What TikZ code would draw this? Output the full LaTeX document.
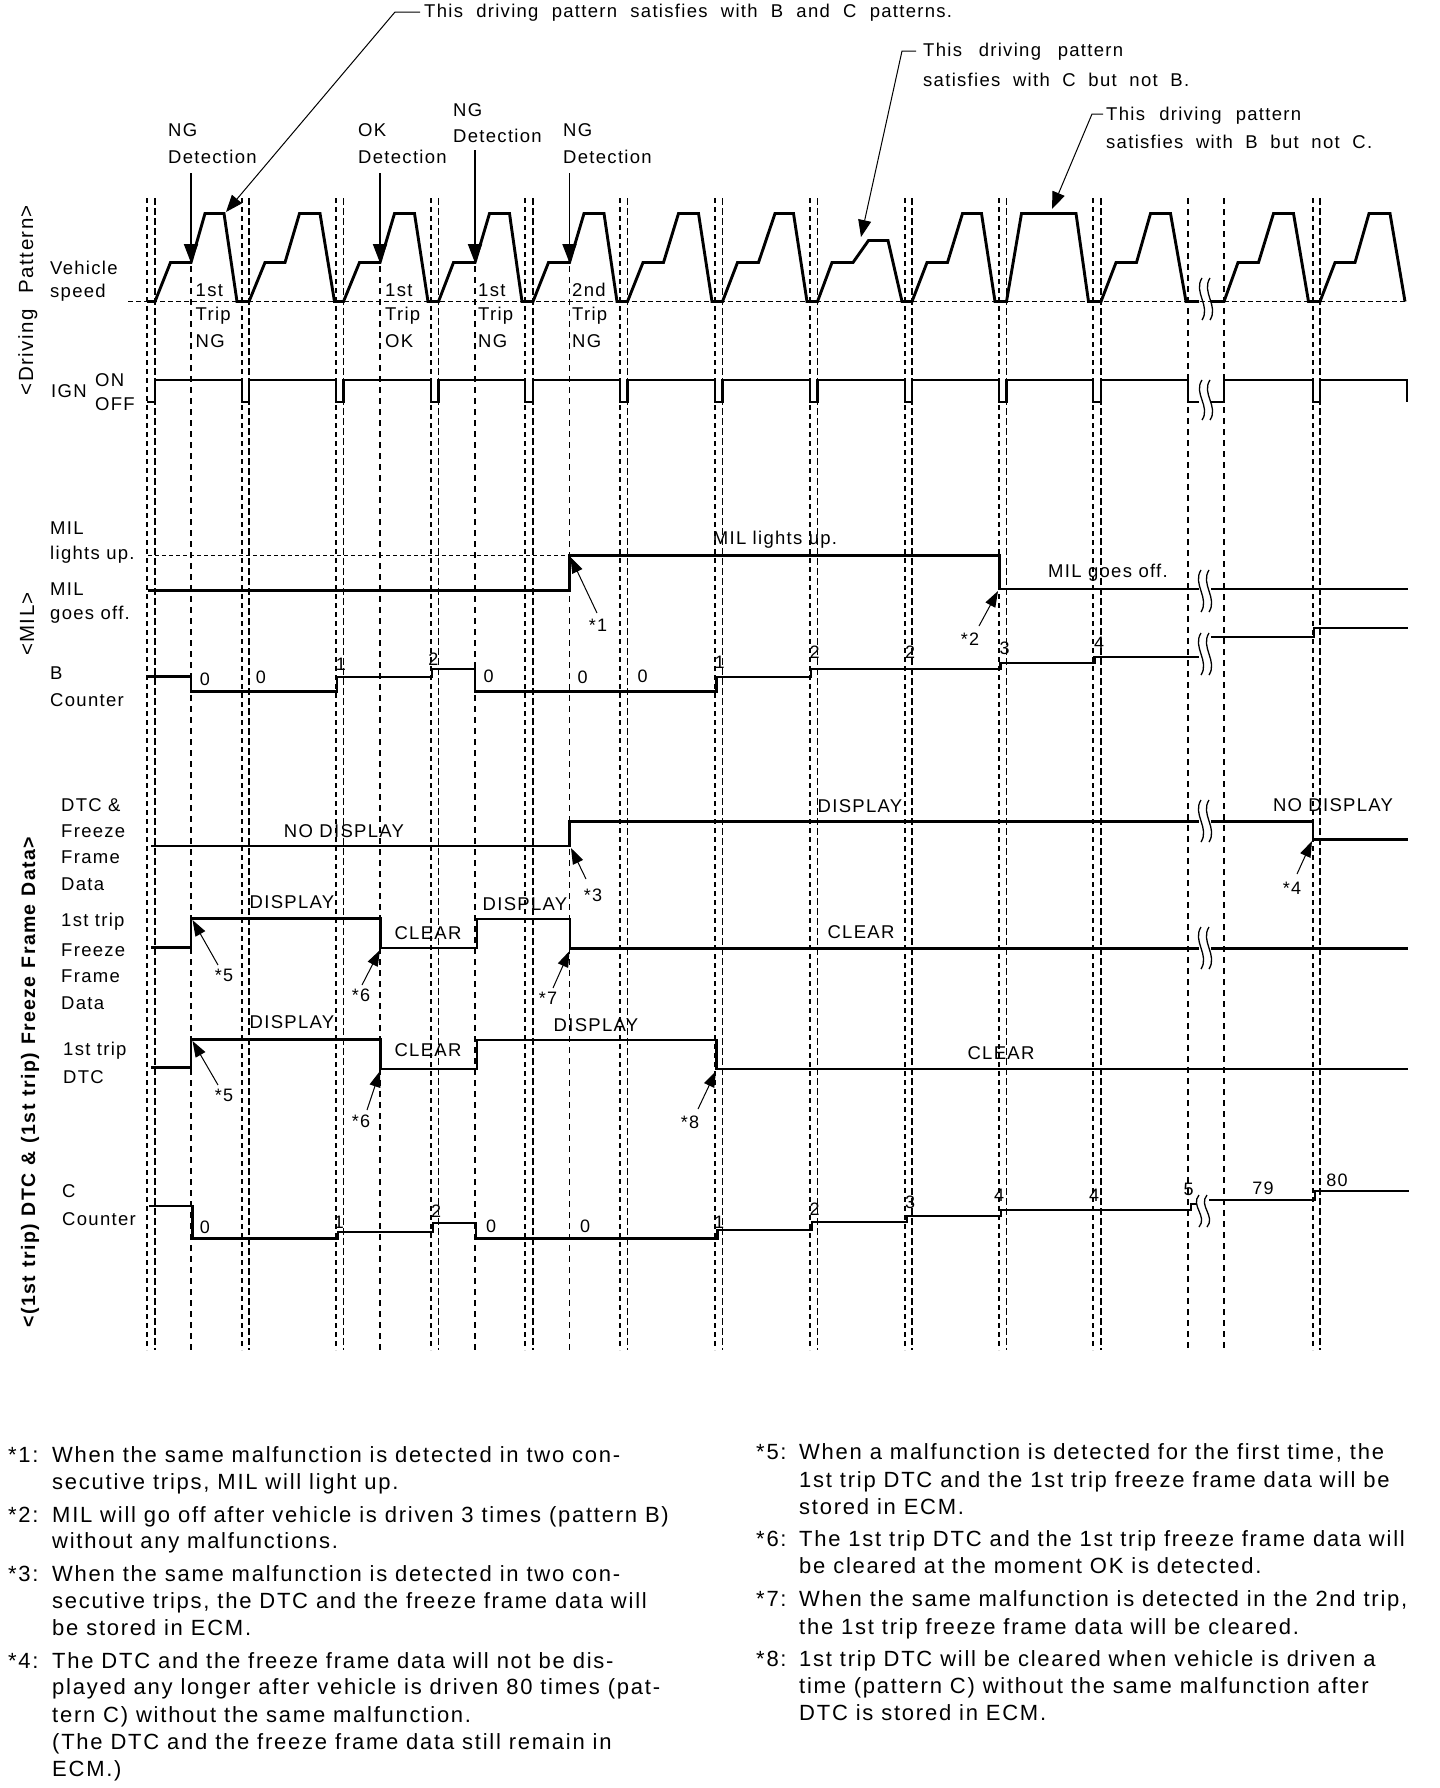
\documentclass[tikz,border=0pt]{standalone}
\usepackage{fontspec}
\setmainfont{Liberation Sans}
\newfontfamily\labf[LetterSpace=7]{Liberation Sans}
\newfontfamily\fnf[LetterSpace=8]{Liberation Sans}
\usetikzlibrary{arrows.meta}
\newcommand\brksym[3]{%
  \draw[brkline] ({#1+5},{#2-#3}) .. controls ({#1-4},{#2-#3/3}) and ({#1+14},{#2+#3/3}) .. ({#1+5},{#2+#3});
  \draw[brkline] ({#1+13},{#2-#3}) .. controls ({#1+4},{#2-#3/3}) and ({#1+22},{#2+#3/3}) .. ({#1+13},{#2+#3});}
\newcommand\fnl[4]{\node[fn] (#1) at (#2,#3) {#4};}
\tikzset{
 wave/.style={line width=2.9pt, line join=miter},
 basel/.style={line width=1pt, dash pattern=on 5pt off 3pt},
 vpa/.style={line width=1.3pt, dash pattern=on 5pt off 4pt},
 vpb/.style={line width=1.8pt, dash pattern=on 7pt off 3pt},
 vsg/.style={line width=1.1pt, dash pattern=on 6pt off 5pt},
 mildash/.style={line width=1pt, dash pattern=on 4pt off 3pt},
 lab/.style={font=\labf\fontsize{18.5}{21}\selectfont, inner sep=0pt, anchor=west},
 labc/.style={font=\labf\fontsize{18.5}{21}\selectfont, inner sep=0pt},
 dig/.style={font=\labf\fontsize{18}{20}\selectfont, inner sep=0pt},
 fn/.style={font=\fnf\fontsize{22}{26}\selectfont, inner sep=0pt, anchor=base west},
 vlab/.style={font=\labf\fontsize{20.5}{24}\selectfont, inner sep=0pt, anchor=base, rotate=90},
 callout/.style={line width=1pt, -{Triangle[length=16pt,width=11pt]}},
 leader/.style={line width=1pt, -{Triangle[length=17pt,width=13pt]}},
 detarrow/.style={line width=1.9pt, -{Triangle[length=19pt,width=14pt]}},
 brkline/.style={line width=1.3pt},
}
\begin{document}
\begin{tikzpicture}[x=1pt,y=-1pt]
\useasboundingbox (0,0) rectangle (1440,1788);
\fill[white] (0,0) rectangle (1440,1788);

% ---------- vertical guide lines ----------
\foreach \xa/\xb in {147/155, 242/249, 336/343.5, 431/438.5, 525/533, 620/627.5, 715/722.5, 810/817.5, 905/912, 999/1006.5, 1093/1101, 1313/1320} {
  \draw[vpa] (\xa,198) -- (\xa,1350);
  \draw[vpb] (\xb,198) -- (\xb,1350);
}
\foreach \xs in {191, 380, 475, 569.5} \draw[vsg] (\xs,266) -- (\xs,1350);
\foreach \xs in {1188, 1224} \draw[vsg] (\xs,198) -- (\xs,1350);

% ---------- vehicle speed ----------
\draw[basel] (128,301.5) -- (1405,301.5);
\draw[wave] (147,301.5) -- (155,301.5) -- (170.5,262.5) -- (191,262.5) -- (205,213.5) -- (224,213.5) -- (237,301.5) -- (249,301.5)
 -- (265,262.5) -- (285,262.5) -- (299.5,213.5) -- (320,213.5) -- (334.5,301.5) -- (343.5,301.5)
 -- (359.5,262.5) -- (380,262.5) -- (394.5,213.5) -- (414.5,213.5) -- (428,301.5) -- (438.5,301.5)
 -- (453.5,262.5) -- (475,262.5) -- (489.5,213.5) -- (509.5,213.5) -- (522,301.5) -- (533,301.5)
 -- (548.5,262.5) -- (569.5,262.5) -- (584,213.5) -- (604,213.5) -- (617,301.5) -- (627.5,301.5)
 -- (643,262.5) -- (663.5,262.5) -- (678.5,213.5) -- (698.5,213.5) -- (712,301.5) -- (722.5,301.5)
 -- (737.5,262.5) -- (758.5,262.5) -- (775,213.5) -- (793.5,213.5) -- (807,301.5) -- (817.5,301.5)
 -- (832,262.5) -- (853,262.5) -- (868.5,240.5) -- (888,240.5) -- (902,301.5) -- (912,301.5)
 -- (927,262.5) -- (947.5,262.5) -- (962.5,213.5) -- (981.5,213.5) -- (995,301.5) -- (1006.5,301.5)
 -- (1021.5,213.5) -- (1076,213.5) -- (1088.5,301.5) -- (1101,301.5)
 -- (1116,262.5) -- (1136.5,262.5) -- (1150.5,213.5) -- (1170.5,213.5) -- (1186,301.5) -- (1199,301.5);
\draw[wave] (1211,301.5) -- (1224,301.5) -- (1238,262.5) -- (1258.5,262.5) -- (1273.5,213.5) -- (1293.5,213.5) -- (1308.5,301.5) -- (1320,301.5)
 -- (1335,262.5) -- (1355,262.5) -- (1369,213.5) -- (1390,213.5) -- (1405,301.5);
\brksym{1197}{299}{21}

% ---------- IGN ----------
\draw[wave] (147,402) -- (155,402) -- (155,380) -- (242,380) -- (242,402) -- (249,402) -- (249,380)
 -- (336,380) -- (336,402) -- (343.5,402) -- (343.5,380) -- (431,380) -- (431,402) -- (438.5,402) -- (438.5,380)
 -- (525,380) -- (525,402) -- (533,402) -- (533,380) -- (620,380) -- (620,402) -- (627.5,402) -- (627.5,380)
 -- (715,380) -- (715,402) -- (722.5,402) -- (722.5,380) -- (810,380) -- (810,402) -- (817.5,402) -- (817.5,380)
 -- (905,380) -- (905,402) -- (912,402) -- (912,380) -- (999,380) -- (999,402) -- (1006.5,402) -- (1006.5,380)
 -- (1093,380) -- (1093,402) -- (1101,402) -- (1101,380) -- (1188,380) -- (1188,402) -- (1199,402);
\draw[wave] (1211,402) -- (1224,402) -- (1224,380) -- (1313,380) -- (1313,402) -- (1320,402) -- (1320,380) -- (1407,380) -- (1407,402);
\brksym{1197}{400}{20}

% ---------- MIL ----------
\draw[mildash] (148,555.5) -- (569.5,555.5);
\draw[wave] (148,590.5) -- (569.5,590.5) -- (569.5,555.5) -- (999.5,555.5) -- (999.5,589) -- (1199,589);
\draw[wave] (1211,589) -- (1408,589);
\brksym{1196}{591}{21}

% ---------- B counter ----------
\draw[wave] (148,676.5) -- (191,676.5) -- (191,691.5) -- (337,691.5) -- (337,677) -- (432,677) -- (432,669) -- (475,669) -- (475,691.5)
 -- (716.5,691.5) -- (716.5,677) -- (811,677) -- (811,669) -- (1000.5,669) -- (1000.5,663) -- (1094.5,663) -- (1094.5,657) -- (1199,657);
\draw[wave] (1211,637) -- (1314,637) -- (1314,628) -- (1408,628);
\brksym{1196}{654}{21}

% ---------- DTC & Freeze Frame Data ----------
\draw[wave] (151,846) -- (569.5,846) -- (569.5,821.5) -- (1199,821.5);
\draw[wave] (1211,821.5) -- (1313,821.5) -- (1313,839.5) -- (1408,839.5);
\brksym{1196}{821}{21}

% ---------- 1st trip Freeze Frame Data ----------
\draw[wave] (151,947.5) -- (191,947.5) -- (191,918.5) -- (380.5,918.5) -- (380.5,948) -- (477,948) -- (477,919) -- (570,919) -- (570,948.5) -- (1199,948.5);
\draw[wave] (1211,948.5) -- (1408,948.5);
\brksym{1196}{948}{21}

% ---------- 1st trip DTC ----------
\draw[wave] (151,1067.5) -- (191,1067.5) -- (191,1039.5) -- (380.5,1039.5) -- (380.5,1069) -- (477,1069) -- (477,1040) -- (716.5,1040) -- (716.5,1069) -- (1408,1069);

% ---------- C counter ----------
\draw[wave] (149,1206) -- (192.5,1206) -- (192.5,1238.5) -- (338,1238.5) -- (338,1232) -- (433,1232) -- (433,1223) -- (476,1223) -- (476,1238.5)
 -- (717.5,1238.5) -- (717.5,1230) -- (812,1230) -- (812,1222) -- (907,1222) -- (907,1216) -- (1001,1216) -- (1001,1210) -- (1191,1210) -- (1191,1204) -- (1197,1204);
\draw[wave] (1209,1200) -- (1315,1200) -- (1315,1191) -- (1409,1191);
\brksym{1194}{1211}{16}

% ---------- rotated section labels ----------
\node[vlab] (vdp) at (33,300) {\makebox[190pt][s]{<Driving Pattern>}};
\node[vlab] (vmil) at (34,624) {<MIL>};
\node[vlab, font=\labf\bfseries\fontsize{19.5}{24}\selectfont] (vdtc) at (35,1082) {\makebox[490pt][s]{<(1st trip) DTC \& (1st trip) Freeze Frame Data>}};

% ---------- row labels ----------
\node[lab] (lveh) at (50,268) {Vehicle};
\node[lab] (lspd) at (50,293) {speed};
\node[lab] (lign) at (51,391) {IGN};
\node[lab] (lon) at (95,380) {ON};
\node[lab] (loff) at (95,404) {OFF};
\node[lab] (lmil1) at (50,528) {MIL};
\node[lab] (llit) at (50,555) {lights up.};
\node[lab] (lmil2) at (50,589) {MIL};
\node[lab] (lgoes) at (50,615) {goes off.};
\node[lab] (lb) at (50,673) {B};
\node[lab] (lbc) at (50,700) {Counter};
\node[lab] (ldtc1) at (61,805) {DTC \&};
\node[lab] (lfr1) at (61,831) {Freeze};
\node[lab] (lfm1) at (61,857) {Frame};
\node[lab] (lda1) at (61,884) {Data};
\node[lab] (l1st1) at (61,922) {1st trip};
\node[lab] (lfr2) at (61,950) {Freeze};
\node[lab] (lfm2) at (61,976) {Frame};
\node[lab] (lda2) at (61,1003) {Data};
\node[lab] (l1st2) at (63,1051) {1st trip};
\node[lab] (ldtc2) at (63,1077) {DTC};
\node[lab] (lc) at (62,1191) {C};
\node[lab] (lcc) at (62,1219) {Counter};

% ---------- detection labels and arrows ----------
\node[lab] (ng1a) at (168,130) {NG};
\node[lab] (ng1b) at (168,157) {Detection};
\node[lab] (oka) at (358,130) {OK};
\node[lab] (okb) at (358,157) {Detection};
\node[lab] (ng2a) at (453,110) {NG};
\node[lab] (ng2b) at (453,136) {Detection};
\node[lab] (ng3a) at (563,130) {NG};
\node[lab] (ng3b) at (563,157) {Detection};
\coordinate (d1s) at (191,173);   \coordinate (d1t) at (191,263);
\coordinate (d2s) at (380,173);   \coordinate (d2t) at (380,263);
\coordinate (d3s) at (475,150);   \coordinate (d3t) at (475,263);
\coordinate (d4s) at (569.5,173); \coordinate (d4t) at (569.5,263);
\draw[detarrow] (d1s) -- (d1t);
\draw[detarrow] (d2s) -- (d2t);
\draw[detarrow] (d3s) -- (d3t);
\draw[detarrow] (d4s) -- (d4t);

% ---------- trip labels ----------
\node[lab] (t1a) at (195.5,290) {1st};
\node[lab] (t1b) at (195.5,316) {Trip};
\node[lab] (t1c) at (195.5,341) {NG};
\node[lab] (t2a) at (385,290) {1st};
\node[lab] (t2b) at (385,316) {Trip};
\node[lab] (t2c) at (385,341) {OK};
\node[lab] (t3a) at (478,290) {1st};
\node[lab] (t3b) at (478,316) {Trip};
\node[lab] (t3c) at (478,341) {NG};
\node[lab] (t4a) at (572,290) {2nd};
\node[lab] (t4b) at (572,316) {Trip};
\node[lab] (t4c) at (572,341) {NG};

% ---------- top callouts ----------
\node[lab] (c1) at (424,13) {\makebox[528pt][s]{This driving pattern satisfies with B and C patterns.}};
\node[lab] (c2a) at (923,52) {\makebox[200pt][s]{This driving pattern}};
\node[lab] (c2b) at (923,79.5) {\makebox[266pt][s]{satisfies with C but not B.}};
\node[lab] (c3a) at (1106,116) {\makebox[195pt][s]{This driving pattern}};
\node[lab] (c3b) at (1106,142) {\makebox[266pt][s]{satisfies with B but not C.}};
\coordinate (c1p) at (420,12);  \coordinate (c1q) at (395,12);  \coordinate (c1t) at (226,212);
\coordinate (c2p) at (916,51);  \coordinate (c2q) at (902,51);  \coordinate (c2t) at (861,237);
\coordinate (c3p) at (1103,114); \coordinate (c3q) at (1092,114); \coordinate (c3t) at (1052,209);
\draw[leader] (c1p) -- (c1q) -- (c1t);
\draw[leader] (c2p) -- (c2q) -- (c2t);
\draw[leader] (c3p) -- (c3q) -- (c3t);

% ---------- waveform labels ----------
\node[labc] (mlu) at (775,540) {MIL lights up.};
\node[labc] (mgo) at (1108,573) {MIL goes off.};
\node[labc] (nd1) at (344,831) {NO DISPLAY};
\node[labc] (dsp1) at (860,806) {DISPLAY};
\node[labc] (nd2) at (1333,805) {NO DISPLAY};
\node[labc] (ffd1) at (292,902) {DISPLAY};
\node[labc] (ffc1) at (428,933) {CLEAR};
\node[labc] (ffd2) at (525,904) {DISPLAY};
\node[labc] (ffc2) at (861,932) {CLEAR};
\node[labc] (dtd1) at (292,1022) {DISPLAY};
\node[labc] (dtc1) at (428,1050) {CLEAR};
\node[labc] (dtd2) at (596,1025) {DISPLAY};
\node[labc] (dtc2) at (1001,1053) {CLEAR};

% ---------- counter digits ----------
\node[dig] (b0a) at (205,679) {0};
\node[dig] (b0b) at (261,677) {0};
\node[dig] (b1a) at (341,664) {1};
\node[dig] (b2a) at (433.5,659) {2};
\node[dig] (b0c) at (488.5,676.5) {0};
\node[dig] (b0d) at (582.5,677) {0};
\node[dig] (b0e) at (642.5,676.5) {0};
\node[dig] (b1b) at (719.5,662) {1};
\node[dig] (b2b) at (814.5,652) {2};
\node[dig] (b2c) at (910,652) {2};
\node[dig] (b3) at (1004.5,648.5) {3};
\node[dig] (b4) at (1099,643.5) {4};
\node[dig] (cc0a) at (205,1227) {0};
\node[dig] (cc1a) at (339,1222) {1};
\node[dig] (cc2a) at (436,1211) {2};
\node[dig] (cc0b) at (491,1226) {0};
\node[dig] (cc0c) at (585,1226) {0};
\node[dig] (cc1b) at (719,1222) {1};
\node[dig] (cc2b) at (814.5,1209) {2};
\node[dig] (cc3) at (910,1202) {3};
\node[dig] (cc4a) at (999,1195) {4};
\node[dig] (cc4b) at (1094,1195) {4};
\node[dig] (cc5) at (1188.5,1189) {5};
\node[dig] (cc79) at (1263,1188) {79};
\node[dig] (cc80) at (1337,1180) {80};

% ---------- star callouts ----------
\node[dig] (s1) at (598,625) {*1};
\node[dig] (s2) at (970,639) {*2};
\node[dig] (s3) at (593,895) {*3};
\node[dig] (s4) at (1292,888) {*4};
\node[dig] (s5a) at (224,975) {*5};
\node[dig] (s6a) at (361,995) {*6};
\node[dig] (s7) at (548,998) {*7};
\node[dig] (s5b) at (224,1095) {*5};
\node[dig] (s6b) at (361,1121) {*6};
\node[dig] (s8) at (690,1122) {*8};
\coordinate (s1f) at (597,613);   \coordinate (s1t) at (570.5,557);
\coordinate (s2f) at (979,626);   \coordinate (s2t) at (998,591);
\coordinate (s3f) at (586,879);   \coordinate (s3t) at (571,848);
\coordinate (s4f) at (1297,874);  \coordinate (s4t) at (1312,841);
\coordinate (s5af) at (218,965);  \coordinate (s5at) at (192.5,920);
\coordinate (s6af) at (362,985);  \coordinate (s6at) at (380,950);
\coordinate (s7f) at (553,988);   \coordinate (s7t) at (569.5,951);
\coordinate (s5bf) at (218,1085); \coordinate (s5bt) at (192.5,1041);
\coordinate (s6bf) at (367,1110); \coordinate (s6bt) at (380,1071);
\coordinate (s8f) at (698,1109);  \coordinate (s8t) at (716,1071);
\foreach \n in {s1,s2,s3,s4,s5a,s6a,s7,s5b,s6b,s8} \draw[callout] (\n f) -- (\n t);

% ---------- footnotes ----------
\fnl{f1n}{8}{1462}{*1:}
\fnl{f1a}{52}{1462}{When the same malfunction is detected in two con-}
\fnl{f1b}{52}{1489}{secutive trips, MIL will light up.}
\fnl{f2n}{8}{1522}{*2:}
\fnl{f2a}{52}{1522}{MIL will go off after vehicle is driven 3 times (pattern B)}
\fnl{f2b}{52}{1548}{without any malfunctions.}
\fnl{f3n}{8}{1581.5}{*3:}
\fnl{f3a}{52}{1581.5}{When the same malfunction is detected in two con-}
\fnl{f3b}{52}{1608}{secutive trips, the DTC and the freeze frame data will}
\fnl{f3c}{52}{1635}{be stored in ECM.}
\fnl{f4n}{8}{1668}{*4:}
\fnl{f4a}{52}{1668}{The DTC and the freeze frame data will not be dis-}
\fnl{f4b}{52}{1694.5}{played any longer after vehicle is driven 80 times (pat-}
\fnl{f4c}{52}{1722}{tern C) without the same malfunction.}
\fnl{f4d}{52}{1749}{(The DTC and the freeze frame data still remain in}
\fnl{f4e}{52}{1776}{ECM.)}
\fnl{f5n}{756}{1459.5}{*5:}
\fnl{f5a}{799}{1459.5}{When a malfunction is detected for the first time, the}
\fnl{f5b}{799}{1487}{1st trip DTC and the 1st trip freeze frame data will be}
\fnl{f5c}{799}{1514}{stored in ECM.}
\fnl{f6n}{756}{1546}{*6:}
\fnl{f6a}{799}{1546}{The 1st trip DTC and the 1st trip freeze frame data will}
\fnl{f6b}{799}{1573.5}{be cleared at the moment OK is detected.}
\fnl{f7n}{756}{1606.5}{*7:}
\fnl{f7a}{799}{1606.5}{When the same malfunction is detected in the 2nd trip,}
\fnl{f7b}{799}{1634}{the 1st trip freeze frame data will be cleared.}
\fnl{f8n}{756}{1666}{*8:}
\fnl{f8a}{799}{1666}{1st trip DTC will be cleared when vehicle is driven a}
\fnl{f8b}{799}{1693}{time (pattern C) without the same malfunction after}
\fnl{f8c}{799}{1720.5}{DTC is stored in ECM.}
\end{tikzpicture}
\end{document}
